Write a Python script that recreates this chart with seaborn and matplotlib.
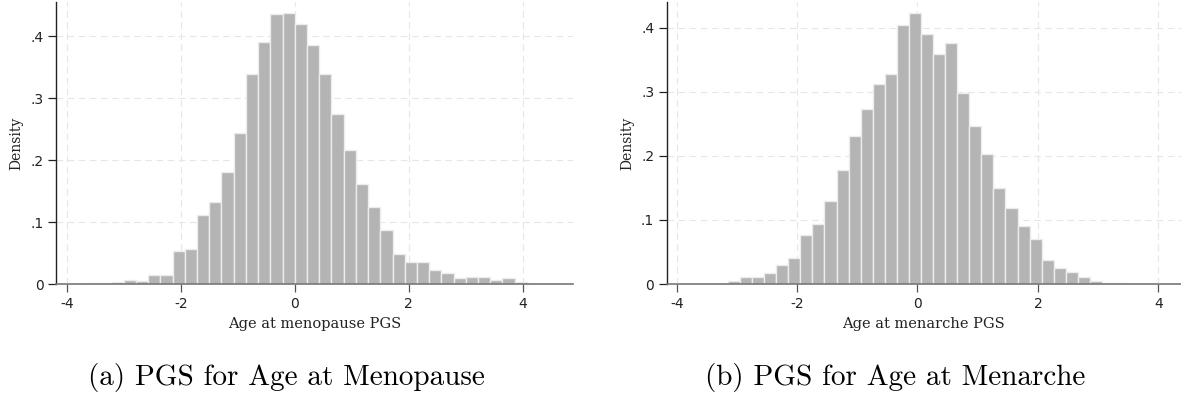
import numpy as np
import pandas as pd
import matplotlib
matplotlib.use("Agg")
import matplotlib.pyplot as plt
import seaborn as sns

# ---- data ----
meno_bin_start = -3.645
meno_bin_width = 0.2144
meno_density = [0.001, 0.002, 0.004, 0.0065, 0.005, 0.015, 0.015, 0.054, 0.057,
                0.112, 0.133, 0.181, 0.243, 0.339, 0.390, 0.435, 0.438,
                0.419, 0.385, 0.339, 0.274, 0.217, 0.161, 0.125, 0.087, 0.048,
                0.035, 0.035, 0.0225, 0.0175, 0.009, 0.011, 0.011, 0.006, 0.009, 0.004]

mena_bin_start = -3.149
mena_bin_width = 0.2005
mena_density = [0.005, 0.011, 0.011, 0.017, 0.030, 0.040,
                0.077, 0.094, 0.130, 0.178, 0.231, 0.273, 0.313, 0.328, 0.405,
                0.424, 0.391, 0.360, 0.376, 0.299, 0.247, 0.203, 0.150, 0.118, 0.091, 0.071,
                0.037, 0.0245, 0.018, 0.0115, 0.004, 0.002, 0.0015]

x_ticks = [-4, -2, 0, 2, 4]
y_ticks = [0, 0.1, 0.2, 0.3, 0.4]
y_tick_labels = ["0", ".1", ".2", ".3", ".4"]
x_labels = ["Age at menopause PGS", "Age at menarche PGS"]
captions = ["(a) PGS for Age at Menopause", "(b) PGS for Age at Menarche"]

sns.set_theme(style="white")
plt.rcParams["font.family"] = ["DejaVu Sans"]

fig = plt.figure(figsize=(11.81, 3.94), dpi=100)
W, H = 1181, 394

def px_axes(x0, x1, ytop, ybot):
    return fig.add_axes([x0 / W, 1 - ybot / H, (x1 - x0) / W, (ybot - ytop) / H])

ax1 = px_axes(56, 573, 2, 284)
ax2 = px_axes(666.7, 1181, 2, 284)

panels = [
    (ax1, meno_bin_start, meno_bin_width, meno_density, (-4.19, 4.88), (0, 0.455)),
    (ax2, mena_bin_start, mena_bin_width, mena_density, (-4.166, 4.377), (0, 0.4406)),
]

for i, (ax, b0, bw, dens, xl, yl) in enumerate(panels):
    n = len(dens)
    centers = b0 + bw * (np.arange(n) + 0.5)
    df = pd.DataFrame({"x": centers, "w": np.asarray(dens, dtype=float)})
    sns.histplot(data=df, x="x", weights="w", binwidth=bw,
                 binrange=(b0, b0 + bw * n - bw * 0.01), stat="count", ax=ax,
                 color="#b4b4b4", alpha=1.0, edgecolor="#ececec", linewidth=1.0)
    ax.set_xlim(*xl)
    ax.set_ylim(*yl)
    ax.set_xticks(x_ticks)
    ax.set_xticklabels([str(t) for t in x_ticks])
    ax.set_yticks(y_ticks)
    ax.set_yticklabels(y_tick_labels)
    ax.set_axisbelow(True)
    ax.grid(True, linestyle=(0, (6, 4)), color="#e6e6e6", linewidth=0.8)
    for s in ["top", "right"]:
        ax.spines[s].set_visible(False)
    ax.spines["left"].set_color("#222222")
    ax.spines["left"].set_linewidth(1.0)
    ax.spines["bottom"].set_color("#777777")
    ax.spines["bottom"].set_linewidth(1.2)
    ax.tick_params(axis="both", which="both", direction="out", length=6, width=0.9,
                   labelsize=10, colors="#222222", pad=3, left=True, bottom=True)
    ax.tick_params(axis="x", colors="#555555", labelcolor="#222222")
    ax.set_ylabel("Density", fontfamily="DejaVu Serif", fontsize=10, color="#222222", labelpad=5)
    ax.set_xlabel(x_labels[i], fontfamily="DejaVu Serif", fontsize=10.5, color="#222222", labelpad=5)

fig.text(286 / W, 1 - 378 / H, captions[0], fontfamily="cmr10", fontsize=21,
         ha="center", va="center", color="black")
fig.text(895 / W, 1 - 378 / H, captions[1], fontfamily="cmr10", fontsize=21,
         ha="center", va="center", color="black")

fig.savefig("out.png", dpi=100, facecolor="white")
